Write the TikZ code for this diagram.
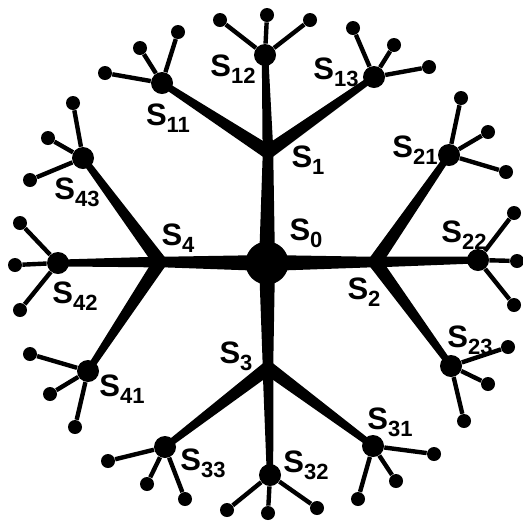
\documentclass[tikz,border=0pt]{standalone}
\usepackage{fontspec}
\setmainfont{Liberation Sans}
\usetikzlibrary{calc}

% tapered branch from node #1 to node #2, half widths #3 and #4
\newcommand{\taper}[4]{%
  \fill ($(#1)!#3!90:(#2)$) -- ($(#2)!#4!-90:(#1)$) -- ($(#2)!#4!90:(#1)$) -- ($(#1)!#3!-90:(#2)$) -- cycle;}
% label S with subscript
\newcommand{\sname}[1]{S\raisebox{-3.5pt}{\fontsize{11}{10}\selectfont #1}}

\begin{document}
\begin{tikzpicture}[x=0.5pt, y=-0.5pt]
    % Node styles
    \tikzset{root node/.style={circle,fill=black,inner sep=0pt,minimum size=21.5pt},
             joint node/.style={circle,fill=black,inner sep=0pt,minimum size=6.5pt},
             mid node/.style={circle,fill=black,inner sep=0pt,minimum size=11pt},
             leaf node/.style={circle,fill=black,inner sep=0pt,minimum size=7pt},
             leaf line/.style={line width=2.2pt},
             name label/.style={font=\bfseries\fontsize{15.5}{15}\selectfont, inner sep=0pt}}
    \useasboundingbox (0,0) rectangle (523,521);

    % Root S0
    \node[root node] (s0) at (267, 263) {};

    % Level 1
    \node[joint node] (s1) at (268, 152) {};
    \node[joint node] (s2) at (375, 262) {};
    \node[joint node] (s3) at (268, 368) {};
    \node[joint node] (s4) at (160, 262) {};

    % Level 2
    \node[mid node] (s11) at (162, 83) {};
    \node[mid node] (s12) at (265, 55) {};
    \node[mid node] (s13) at (374, 77) {};
    \node[mid node] (s21) at (449, 155) {};
    \node[mid node] (s22) at (478, 260) {};
    \node[mid node] (s23) at (451, 366) {};
    \node[mid node] (s31) at (373, 446) {};
    \node[mid node] (s32) at (270, 475) {};
    \node[mid node] (s33) at (165, 447) {};
    \node[mid node] (s41) at (88, 371) {};
    \node[mid node] (s42) at (58, 263) {};
    \node[mid node] (s43) at (83, 158) {};

    % Level 3: leaves
    \node[leaf node] (s11a) at (105, 73) {}; \node[leaf node] (s11b) at (140, 48) {}; \node[leaf node] (s11c) at (178, 32) {};
    \node[leaf node] (s12a) at (220, 20) {}; \node[leaf node] (s12b) at (267, 15) {}; \node[leaf node] (s12c) at (310, 20) {};
    \node[leaf node] (s13a) at (353, 28) {}; \node[leaf node] (s13b) at (394, 45) {}; \node[leaf node] (s13c) at (429, 67) {};
    \node[leaf node] (s21a) at (461, 98) {}; \node[leaf node] (s21b) at (488, 132) {}; \node[leaf node] (s21c) at (506, 172) {};
    \node[leaf node] (s22a) at (514, 213) {}; \node[leaf node] (s22b) at (517, 261) {}; \node[leaf node] (s22c) at (514, 305) {};
    \node[leaf node] (s23a) at (508, 347) {}; \node[leaf node] (s23b) at (488, 384) {}; \node[leaf node] (s23c) at (464, 421) {};
    \node[leaf node] (s31a) at (434, 454) {}; \node[leaf node] (s31b) at (396, 481) {}; \node[leaf node] (s31c) at (358, 499) {};
    \node[leaf node] (s32a) at (227, 510) {}; \node[leaf node] (s32b) at (268, 513) {}; \node[leaf node] (s32c) at (317, 508) {};
    \node[leaf node] (s33a) at (108, 461) {}; \node[leaf node] (s33b) at (147, 484) {}; \node[leaf node] (s33c) at (185, 499) {};
    \node[leaf node] (s41a) at (30, 354) {}; \node[leaf node] (s41b) at (50, 394) {}; \node[leaf node] (s41c) at (75, 427) {};
    \node[leaf node] (s42a) at (20, 223) {}; \node[leaf node] (s42b) at (15, 265) {}; \node[leaf node] (s42c) at (20, 310) {};
    \node[leaf node] (s43a) at (73, 103) {}; \node[leaf node] (s43b) at (48, 138) {}; \node[leaf node] (s43c) at (30, 180) {};

    % Branches from S0
    \taper{s0}{s1}{4pt}{2.6pt}
    \taper{s0}{s2}{4pt}{2.6pt}
    \taper{s0}{s3}{4pt}{2.6pt}
    \taper{s0}{s4}{4pt}{2.6pt}

    % Branches from level 1
    \taper{s1}{s11}{3.4pt}{1.6pt} \taper{s1}{s12}{2.7pt}{1.6pt} \taper{s1}{s13}{3.4pt}{1.6pt}
    \taper{s2}{s21}{3.4pt}{1.6pt} \taper{s2}{s22}{2.7pt}{1.7pt} \taper{s2}{s23}{3.4pt}{1.6pt}
    \taper{s3}{s31}{3.4pt}{1.6pt} \taper{s3}{s32}{2.7pt}{1.6pt} \taper{s3}{s33}{3.4pt}{1.6pt}
    \taper{s4}{s41}{3.4pt}{1.6pt} \taper{s4}{s42}{2.7pt}{1.7pt} \taper{s4}{s43}{3.4pt}{1.6pt}

    % Leaf lines
    \draw[leaf line] (s11) -- (s11a) (s11) -- (s11b) (s11) -- (s11c);
    \draw[leaf line] (s12) -- (s12a) (s12) -- (s12b) (s12) -- (s12c);
    \draw[leaf line] (s13) -- (s13a) (s13) -- (s13b) (s13) -- (s13c);
    \draw[leaf line] (s21) -- (s21a) (s21) -- (s21b) (s21) -- (s21c);
    \draw[leaf line] (s22) -- (s22a) (s22) -- (s22b) (s22) -- (s22c);
    \draw[leaf line] (s23) -- (s23a) (s23) -- (s23b) (s23) -- (s23c);
    \draw[leaf line] (s31) -- (s31a) (s31) -- (s31b) (s31) -- (s31c);
    \draw[leaf line] (s32) -- (s32a) (s32) -- (s32b) (s32) -- (s32c);
    \draw[leaf line] (s33) -- (s33a) (s33) -- (s33b) (s33) -- (s33c);
    \draw[leaf line] (s41) -- (s41a) (s41) -- (s41b) (s41) -- (s41c);
    \draw[leaf line] (s42) -- (s42a) (s42) -- (s42b) (s42) -- (s42c);
    \draw[leaf line] (s43) -- (s43a) (s43) -- (s43b) (s43) -- (s43c);

    % Labels
    \node[name label] (l0) at (306, 233) {\sname{0}};
    \node[name label] (l1) at (308, 160) {\sname{1}};
    \node[name label] (l2) at (364, 292) {\sname{2}};
    \node[name label] (l3) at (236, 356) {\sname{3}};
    \node[name label] (l4) at (178, 238) {\sname{4}};
    \node[name label] (l11) at (168, 118) {\sname{11}};
    \node[name label] (l12) at (233, 69) {\sname{12}};
    \node[name label] (l13) at (336, 72) {\sname{13}};
    \node[name label] (l21) at (415, 150) {\sname{21}};
    \node[name label] (l22) at (464, 235) {\sname{22}};
    \node[name label] (l23) at (470, 340) {\sname{23}};
    \node[name label] (l31) at (390, 422) {\sname{31}};
    \node[name label] (l32) at (306, 465) {\sname{32}};
    \node[name label] (l33) at (203, 463) {\sname{33}};
    \node[name label] (l41) at (122, 389) {\sname{41}};
    \node[name label] (l42) at (75, 296) {\sname{42}};
    \node[name label] (l43) at (77, 192) {\sname{43}};
\end{tikzpicture}
\end{document}
